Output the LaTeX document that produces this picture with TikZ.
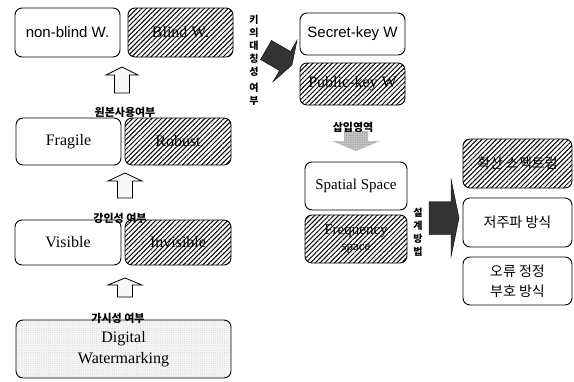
\documentclass[tikz,border=0pt]{standalone}
\usepackage{fontspec}
\setmainfont{Liberation Serif}
\newfontfamily\hangul{Noto Sans CJK KR}
\newfontfamily\arialfont{Liberation Sans}
\usetikzlibrary{patterns.meta,positioning}

\tikzset{
  wbox/.style={draw, line width=0.9pt, rounded corners=7pt, align=center, inner sep=0pt},
  hbox/.style={wbox, pattern={Lines[angle=45,distance=3.4pt,line width=1pt]}},
  serif/.style={font=\fontsize{16}{21}\selectfont},
  sans/.style={font=\arialfont\fontsize{15}{17}\selectfont},
  kor/.style={font=\hangul\fontsize{14}{20}\selectfont},
  tag/.style={font=\hangul\bfseries\fontsize{11}{13}\selectfont, inner sep=0pt},
  vtag/.style={font=\hangul\bfseries\fontsize{10}{13}\selectfont, inner sep=0pt, align=center},
  uparrow/.style={draw, line width=0.8pt, rotate=90,
    pattern={Dots[distance=2pt,radius=0.4pt]}, pattern color=gray!80},
  pics/fatarrow/.style n args={4}{code={
    \path[pic actions] (0,-#3) -- (#1-#2,-#3) -- (#1-#2,-#4) -- (#1,0)
      -- (#1-#2,#4) -- (#1-#2,#3) -- (0,#3) -- cycle;}},
}

\begin{document}
\begin{tikzpicture}[x=1pt,y=-1pt]
  \useasboundingbox (0,0) rectangle (574,381);

  % left column: classification ladder
  \node[wbox, sans, minimum width=105, minimum height=49] (nonblind) at (67.5,32.5) {non-blind W.};
  \node[hbox, serif, minimum width=105, minimum height=49] (blind) at (180.5,32.5) {Blind W.};
  \node[wbox, serif, minimum width=105, minimum height=47] (fragile) at (68.5,141.5) {Fragile};
  \node[hbox, serif, minimum width=106, minimum height=47] (robust) at (178,141.5) {Robust};
  \node[wbox, serif, minimum width=106, minimum height=45] (visible) at (68,242.5) {Visible};
  \node[hbox, serif, minimum width=106, minimum height=45] (invisible) at (178,242.5) {Invisible};
  \node[wbox, serif, minimum width=215, minimum height=58,
        preaction={fill=gray!8},
        pattern={Dots[distance=2.2pt,radius=0.35pt]}, pattern color=gray!50] (digital) at (123.5,349)
        {Digital\\Watermarking};

  \node[tag] (origtag) at (125,112) {원본사용여부};
  \node[tag] (robtag) at (120,218) {강인성 여부};
  \node[tag] (vistag) at (118,318) {가시성 여부};

  \pic[uparrow] at (122,93) {fatarrow={26}{8}{7.5}{16}};
  \pic[uparrow] at (125,198) {fatarrow={25}{8}{7.5}{17}};
  \pic[uparrow] at (125,297) {fatarrow={19}{7}{7.5}{17}};

  % key symmetry
  \node[vtag] (keytag) at (254,60) {키\\의\\대\\칭\\성\\[3pt]여\\부};
  \pic[fill=black!80, draw=black, rotate=-30] at (266,50) {fatarrow={30}{8}{11}{24}};
  \node[wbox, sans, minimum width=105, minimum height=42] (secret) at (352.5,34) {Secret-key W};
  \node[hbox, serif, minimum width=105, minimum height=42] (public) at (352.5,84) {Public-key W};

  % embedding domain
  \pic[rotate=-90, fill=gray!60] at (356,131) {fatarrow={20}{10}{12}{24}};
  \pic[rotate=-90, pattern={Dots[distance=1.8pt,radius=0.45pt]}, pattern color=gray!20] at (356,131)
       {fatarrow={20}{10}{12}{24}};
  \node[tag] (domtag) at (353,127) {삽입영역};
  \node[wbox, serif, font=\fontsize{15}{17}\selectfont, minimum width=102, minimum height=48] (spatial) at (356,186) {Spatial Space};
  \node[hbox, serif, font=\fontsize{15}{16}\selectfont, minimum width=102, minimum height=48] (freq) at (356,239)
       {Frequency\\{\fontsize{13}{15}\selectfont space}};

  % design methods
  \node[vtag] (methtag) at (418,232) {설\\계\\방\\법};
  \pic[fill=black!80, draw=black] at (429,218) {fatarrow={30}{8}{16.5}{39}};
  \node[hbox, kor, minimum width=109, minimum height=49] (spread) at (517.5,163.5) {확산 스펙트럼};
  \node[wbox, kor, minimum width=109, minimum height=49] (lowfreq) at (517.5,222.5) {저주파 방식};
  \node[wbox, kor, minimum width=109, minimum height=48] (ecc) at (517.5,281) {오류 정정\\부호 방식};
\end{tikzpicture}
\end{document}
